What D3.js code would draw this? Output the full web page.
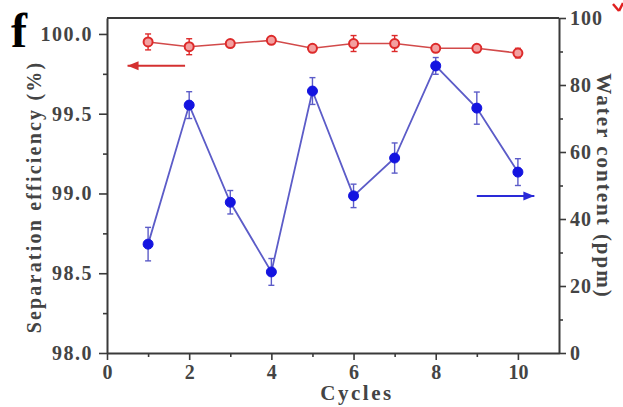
<!DOCTYPE html>
<html>
<head>
<meta charset="utf-8">
<script src="https://cdn.jsdelivr.net/npm/d3@7"></script>
<style>
  html, body { margin: 0; padding: 0; background: #fff; }
  svg { display: block; }
  text { font-family: "Liberation Serif", "Times New Roman", serif; font-weight: bold; }
</style>
</head>
<body>
<svg id="chart" width="623" height="407"></svg>
<script>
// ---- data ----
const cycles = [1, 2, 3, 4, 5, 6, 7, 8, 9, 10];
const efficiency = [99.95, 99.92, 99.94, 99.96, 99.91, 99.94, 99.94, 99.91, 99.91, 99.88];
const efficiencyErr = [0.05, 0.05, 0.02, 0.02, 0.02, 0.05, 0.05, 0.02, 0.02, 0.03];
const water = [32.5, 74, 45, 24.2, 78.2, 46.9, 58.2, 85.7, 73.1, 54];
const waterErr = [5, 4, 3.5, 4, 4, 3.5, 4.5, 2.5, 4.8, 4];
const xTicks = [0, 2, 4, 6, 8, 10];
const xMinor = [1, 3, 5, 7, 9];
const leftTicks = [98.0, 98.5, 99.0, 99.5, 100.0];
const leftMinor = [98.25, 98.75, 99.25, 99.75];
const rightTicks = [0, 20, 40, 60, 80, 100];
const rightMinor = [10, 30, 50, 70, 90];

const svg = d3.select("#chart");
const L = 107, R = 559, T = 18, B = 353;
const x = d3.scaleLinear().domain([0, 11]).range([L, R]);
const yL = d3.scaleLinear().domain([98, 100.1]).range([B, T]);
const yR = d3.scaleLinear().domain([0, 100]).range([B, T]);

const axisColor = "#3a3a3a";
const labelColor = "#444";

function styleAxis(g, spacing) {
  g.selectAll("path").attr("stroke", axisColor).attr("stroke-width", 2);
  g.selectAll("line").attr("stroke", axisColor).attr("stroke-width", 1.6);
  g.selectAll("text").attr("fill", labelColor)
    .style("font-family", '"Liberation Serif", serif').style("font-weight", "bold")
    .style("font-size", "20px").style("letter-spacing", (spacing || 0) + "px");
}

// minor ticks
svg.append("g").attr("transform", `translate(0,${B})`)
  .call(d3.axisBottom(x).tickValues(xMinor).tickSize(4).tickFormat("").tickSizeOuter(0))
  .call(g => g.select("path").remove())
  .call(g => styleAxis(g));
svg.append("g").attr("transform", `translate(${L},0)`)
  .call(d3.axisLeft(yL).tickValues(leftMinor).tickSize(4).tickFormat("").tickSizeOuter(0))
  .call(g => g.select("path").remove())
  .call(g => styleAxis(g));
svg.append("g").attr("transform", `translate(${R},0)`)
  .call(d3.axisRight(yR).tickValues(rightMinor).tickSize(4).tickFormat("").tickSizeOuter(0))
  .call(g => g.select("path").remove())
  .call(g => styleAxis(g));

// major axes
svg.append("g").attr("transform", `translate(0,${B})`)
  .call(d3.axisBottom(x).tickValues(xTicks).tickSize(7).tickSizeOuter(0).tickPadding(5).tickFormat(d3.format("d")))
  .call(g => styleAxis(g));
svg.append("g").attr("transform", `translate(${L},0)`)
  .call(d3.axisLeft(yL).tickValues(leftTicks).tickSize(8).tickSizeOuter(0).tickPadding(6).tickFormat(d3.format(".1f")))
  .call(g => styleAxis(g, 1.5));
svg.append("g").attr("transform", `translate(${R},0)`)
  .call(d3.axisRight(yR).tickValues(rightTicks).tickSize(7).tickSizeOuter(0).tickPadding(4).tickFormat(d3.format("d")))
  .call(g => styleAxis(g, 1));

// top frame line
svg.append("line").attr("x1", x(0)).attr("x2", x(11)).attr("y1", T).attr("y2", T)
  .attr("stroke", axisColor).attr("stroke-width", 2);

// ---- water content (blue) ----
const blueLine = "#5c5cc8", blueMark = "#1414e0";
const wData = cycles.map((c, i) => ({ c, v: water[i], e: waterErr[i] }));
svg.append("path").datum(wData)
  .attr("d", d3.line().x(d => x(d.c)).y(d => yR(d.v)))
  .attr("fill", "none").attr("stroke", blueLine).attr("stroke-width", 1.8);
const wErr = svg.append("g").attr("stroke", blueLine).attr("stroke-width", 1.4);
wData.forEach(d => {
  wErr.append("line").attr("x1", x(d.c)).attr("x2", x(d.c)).attr("y1", yR(d.v - d.e)).attr("y2", yR(d.v + d.e));
  [d.v - d.e, d.v + d.e].forEach(v => wErr.append("line")
    .attr("x1", x(d.c) - 3).attr("x2", x(d.c) + 3).attr("y1", yR(v)).attr("y2", yR(v)));
});
svg.append("g").selectAll("circle").data(wData).join("circle")
  .attr("cx", d => x(d.c)).attr("cy", d => yR(d.v)).attr("r", 5)
  .attr("fill", blueMark).attr("stroke", blueMark).attr("stroke-width", 1);

// ---- separation efficiency (red) ----
const red = "#dd2a2a";
const eData = cycles.map((c, i) => ({ c, v: efficiency[i], e: efficiencyErr[i] }));
svg.append("path").datum(eData)
  .attr("d", d3.line().x(d => x(d.c)).y(d => yL(d.v)))
  .attr("fill", "none").attr("stroke", "#d24a4a").attr("stroke-width", 1.6);
const eErr = svg.append("g").attr("stroke", red).attr("stroke-width", 1.4);
eData.forEach(d => {
  eErr.append("line").attr("x1", x(d.c)).attr("x2", x(d.c)).attr("y1", yL(d.v - d.e)).attr("y2", yL(d.v + d.e));
  [d.v - d.e, d.v + d.e].forEach(v => eErr.append("line")
    .attr("x1", x(d.c) - 3).attr("x2", x(d.c) + 3).attr("y1", yL(v)).attr("y2", yL(v)));
});
svg.append("g").selectAll("circle").data(eData).join("circle")
  .attr("cx", d => x(d.c)).attr("cy", d => yL(d.v)).attr("r", 4.5)
  .attr("fill", "#f3a0a0").attr("stroke", red).attr("stroke-width", 2);

// ---- arrows ----
function arrow(x1, x2, y, color) {
  svg.append("line").attr("x1", x1).attr("x2", x2).attr("y1", y).attr("y2", y)
    .attr("stroke", color).attr("stroke-width", 2);
  const dir = Math.sign(x2 - x1);
  svg.append("path")
    .attr("d", `M${x2},${y} L${x2 - dir * 11},${y - 4.5} L${x2 - dir * 11},${y + 4.5} Z`)
    .attr("fill", color);
}
arrow(x(1.9), x(0.5), yL(99.8), "#d43030");
arrow(x(9.0), x(10.4), yR(46.9), "#2a2ad8");

// ---- labels ----
svg.append("text").attr("x", 11).attr("y", 47).attr("font-size", 48).attr("fill", "#000").text("f");
svg.append("text").attr("transform", `translate(41,197) rotate(-90)`)
  .attr("text-anchor", "middle").attr("font-size", 20).attr("letter-spacing", 2.2).attr("fill", labelColor)
  .text("Separation efficiency (%)");
svg.append("text").attr("transform", `translate(597,186) rotate(90)`)
  .attr("text-anchor", "middle").attr("font-size", 21).attr("letter-spacing", 2).attr("fill", labelColor)
  .text("Water content (ppm)");
svg.append("text").attr("x", 357).attr("y", 400)
  .attr("text-anchor", "middle").attr("font-size", 21).attr("letter-spacing", 2.5).attr("fill", labelColor).text("Cycles");

// small red fragment at top right corner
svg.append("line").attr("x1", 613).attr("y1", 4).attr("x2", 619).attr("y2", 11)
  .attr("stroke", "#e02020").attr("stroke-width", 2.5);
svg.append("line").attr("x1", 619).attr("y1", 11).attr("x2", 623).attr("y2", 3)
  .attr("stroke", "#e02020").attr("stroke-width", 2.5);
</script>
</body>
</html>
